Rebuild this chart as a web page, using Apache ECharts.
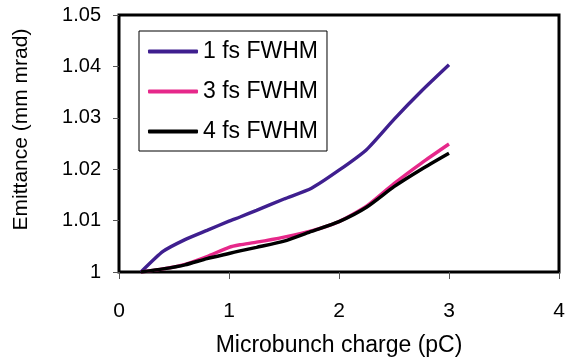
<!DOCTYPE html>
<html>
<head>
<meta charset="utf-8">
<script src="https://cdn.jsdelivr.net/npm/echarts@6/dist/echarts.min.js"></script>
<style>
	html, body { margin: 0; padding: 0; background: #fff; }
	#chart { width: 579px; height: 362px; }
</style>
</head>
<body>
<div id="chart"></div>
<script>
// 微束电荷 (pC)
const charge = [0.2, 0.4, 0.6, 0.8, 1.0, 1.1, 1.25, 1.5, 1.75, 2.0, 2.25, 2.5, 2.75, 3.0]
// 发射度 (mm mrad)
const fwhm1 = [1.0, 1.0040, 1.0063, 1.0081, 1.0099, 1.0107, 1.0120, 1.0142, 1.0163, 1.0198, 1.0238, 1.0297, 1.0352, 1.0403]
const fwhm3 = [1.0, 1.0006, 1.0015, 1.0030, 1.0048, 1.0053, 1.0058, 1.0068, 1.0080, 1.0098, 1.0128, 1.0172, 1.0212, 1.0249]
const fwhm4 = [1.0, 1.0006, 1.0014, 1.0026, 1.0036, 1.0041, 1.0048, 1.0060, 1.0079, 1.0098, 1.0126, 1.0166, 1.0200, 1.0231]
const names = ['1 fs FWHM', '3 fs FWHM', '4 fs FWHM']
const xTicks = [0, 4, 1]      // min, max, interval
const yTicks = [1, 1.05, 0.01]

const font = 'Liberation Sans, Arial, sans-serif'
const pair = (ys) => charge.map((x, i) => [x, ys[i]])

const makeLine = (name, ys, color) => {
	return {
		name: name,
		type: 'line',
		data: pair(ys),
		symbol: 'none',
		smooth: 0.2,
		lineStyle: { color: color, width: 3.4 },
		itemStyle: { color: color },
		animation: false
	}
}

const myChart = echarts.init(document.getElementById('chart'))
myChart.setOption({
	backgroundColor: '#fff',
	textStyle: { fontFamily: font, color: '#000' },
	grid: {
		left: 119, right: 20, top: 15, bottom: 86,
		show: true,
		borderColor: '#000',
		borderWidth: 3,
		backgroundColor: '#fff'
	},
	legend: {
		orient: 'vertical',
		left: 139,
		top: 31,
		padding: [9, 9, 8, 9],
		itemGap: 17,
		itemWidth: 50,
		itemHeight: 4,
		icon: 'roundRect',
		borderColor: '#000',
		borderWidth: 1,
		borderRadius: 0,
		backgroundColor: '#fff',
		textStyle: { fontFamily: font, fontSize: 23, color: '#000' },
		data: names
	},
	xAxis: {
		type: 'value',
		min: xTicks[0],
		max: xTicks[1],
		interval: xTicks[2],
		name: 'Microbunch charge (pC)',
		nameLocation: 'middle',
		nameGap: 62,
		nameTextStyle: { fontFamily: font, fontSize: 23, color: '#000' },
		axisLine: { show: false },
		axisTick: { show: true, length: 7, lineStyle: { color: '#555', width: 1 } },
		axisLabel: { margin: 29, fontFamily: font, fontSize: 21, color: '#000' },
		splitLine: { show: false }
	},
	yAxis: {
		type: 'value',
		min: yTicks[0],
		max: yTicks[1],
		interval: yTicks[2],
		name: 'Emittance (mm mrad)',
		nameLocation: 'middle',
		nameGap: 87,
		nameTextStyle: { fontFamily: font, fontSize: 21, color: '#000', padding: [0, 0, 0, 28] },
		axisLine: { show: false },
		axisTick: { show: true, length: 6, lineStyle: { color: '#555', width: 1 } },
		axisLabel: { margin: 18, fontFamily: font, fontSize: 20, color: '#000' },
		splitLine: { show: false }
	},
	series: [
		makeLine(names[0], fwhm1, '#3f1f8f'),
		makeLine(names[1], fwhm3, '#e6288a'),
		makeLine(names[2], fwhm4, '#000000')
	]
})
</script>
</body>
</html>
